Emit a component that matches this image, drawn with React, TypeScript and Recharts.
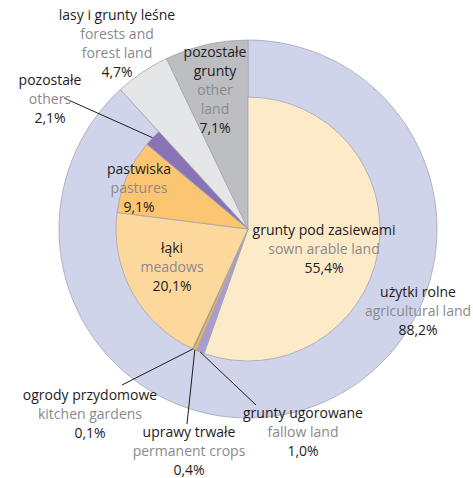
import React from "react";
import { PieChart, Pie, Cell } from "recharts";

// land use structure, % of total area
const outerNames = ["użytki rolne", "lasy i grunty leśne", "pozostałe grunty"];
const outerValues = [88.2, 4.7, 7.1];
const outerColors = ["#cfd4ea", "#e5e6e8", "#bdbec2"];

const innerNames = [
  "grunty pod zasiewami",
  "grunty ugorowane",
  "uprawy trwałe",
  "ogrody przydomowe",
  "łąki",
  "pastwiska",
  "pozostałe",
  "lasy i grunty leśne",
  "pozostałe grunty",
];
const innerEnglish = [
  "sown arable land",
  "fallow land",
  "permanent crops",
  "kitchen gardens",
  "meadows",
  "pastures",
  "others",
  "forests and|forest land",
  "other|land",
];
const innerValues = [55.4, 1.0, 0.4, 0.1, 20.1, 9.1, 2.1, 4.7, 7.1];
const innerColors = ["#fdeac9", "#a99cd0", "#f6b443", "#4a4a4a", "#fdd89c", "#fcc571", "#8a72b6", "none", "none"];

const W = 473;
const H = 478;
const CX = 248;
const CY = 229;
const R_OUT = 189;
const R_IN = 132;
const FONT = "'Open Sans', sans-serif";
const DARK = "#1f1b1c";
const GREY = "#8a8a8c";
const LINE_H = 19;

const outerData = outerNames.map((name, i) => ({ name, value: outerValues[i] }));
const innerData = innerNames.map((name, i) => ({ name, value: innerValues[i] }));

const fmt = (v: number) => v.toFixed(1).replace(".", ",") + "%";

// point on the circle, pct measured clockwise from 12 o'clock
const polar = (r: number, pct: number) => {
  const a = (pct / 100) * 2 * Math.PI;
  return [CX + r * Math.sin(a), CY - r * Math.cos(a)];
};

const midPct = (i: number) => {
  let s = 0;
  for (let k = 0; k < i; k++) s += innerValues[k];
  return s + innerValues[i] / 2;
};

// label blocks: x centre, y of first line, which slice
type Lbl = { pl: string[]; en: string[]; value: number; x: number; y: number };
const labels: Lbl[] = [
  { pl: ["lasy i grunty leśne"], en: innerEnglish[7].split("|"), value: innerValues[7], x: 117, y: 15 },
  { pl: ["pozostałe", "grunty"], en: innerEnglish[8].split("|"), value: innerValues[8], x: 215, y: 52 },
  { pl: [innerNames[6]], en: [innerEnglish[6]], value: innerValues[6], x: 50, y: 80 },
  { pl: [innerNames[5]], en: [innerEnglish[5]], value: innerValues[5], x: 139, y: 169 },
  { pl: [innerNames[4]], en: [innerEnglish[4]], value: innerValues[4], x: 172, y: 248 },
  { pl: [innerNames[0]], en: [innerEnglish[0]], value: innerValues[0], x: 324, y: 230 },
  { pl: [outerNames[0]], en: ["agricultural land"], value: outerValues[0], x: 418, y: 292 },
  { pl: [innerNames[3]], en: [innerEnglish[3]], value: innerValues[3], x: 90, y: 395 },
  { pl: [innerNames[2]], en: [innerEnglish[2]], value: innerValues[2], x: 189, y: 432 },
  { pl: [innerNames[1]], en: [innerEnglish[1]], value: innerValues[1], x: 303, y: 413 },
];

// leader lines: slice index -> free end near its label
const leaders = [
  { idx: 6, end: [64, 98] },
  { idx: 3, end: [122, 385] },
  { idx: 2, end: [187, 424] },
  { idx: 1, end: [256, 405] },
];

const App = () => {
  return (
    <div style={{ position: "absolute", left: 0, top: 0, width: W, height: H, background: "#fff" }}>
      <PieChart width={W} height={H} margin={{ top: 0, right: 0, bottom: 0, left: 0 }}>
        <Pie
          data={outerData}
          dataKey="value"
          cx={CX}
          cy={CY}
          innerRadius={0}
          outerRadius={R_OUT}
          startAngle={90}
          endAngle={-270}
          stroke="#a3a5b2"
          strokeWidth={0.8}
          isAnimationActive={false}
        >
          {outerData.map((d, i) => (
            <Cell key={`o-${i}`} fill={outerColors[i]} />
          ))}
        </Pie>
        <Pie
          data={innerData}
          dataKey="value"
          cx={CX}
          cy={CY}
          innerRadius={0}
          outerRadius={R_IN}
          startAngle={90}
          endAngle={-270}
          stroke="#a3a5b2"
          strokeWidth={0.8}
          isAnimationActive={false}
        >
          {innerData.map((d, i) => (
            <Cell
              key={`i-${i}`}
              fill={innerColors[i]}
              stroke={innerColors[i] === "none" ? "none" : "#a3a5b2"}
            />
          ))}
        </Pie>
      </PieChart>
      <svg width={W} height={H} style={{ position: "absolute", left: 0, top: 0, pointerEvents: "none" }}>
        {leaders.map((l, i) => {
          const [x, y] = polar(R_IN, midPct(l.idx));
          return <line key={`l-${i}`} x1={l.end[0]} y1={l.end[1]} x2={x} y2={y} stroke={DARK} strokeWidth={1} />;
        })}
        {labels.map((lb, i) => {
          const lines = [
            ...lb.pl.map((t) => ({ t, c: DARK })),
            ...lb.en.map((t) => ({ t, c: GREY })),
            { t: fmt(lb.value), c: DARK },
          ];
          return (
            <g key={`t-${i}`}>
              {lines.map((ln, k) => (
                <text
                  key={k}
                  x={lb.x}
                  y={lb.y + k * LINE_H}
                  dy="0.35em"
                  textAnchor="middle"
                  fill={ln.c}
                  fontFamily={FONT}
                  fontSize={14}
                >
                  {ln.t}
                </text>
              ))}
            </g>
          );
        })}
      </svg>
    </div>
  );
};

export default App;
